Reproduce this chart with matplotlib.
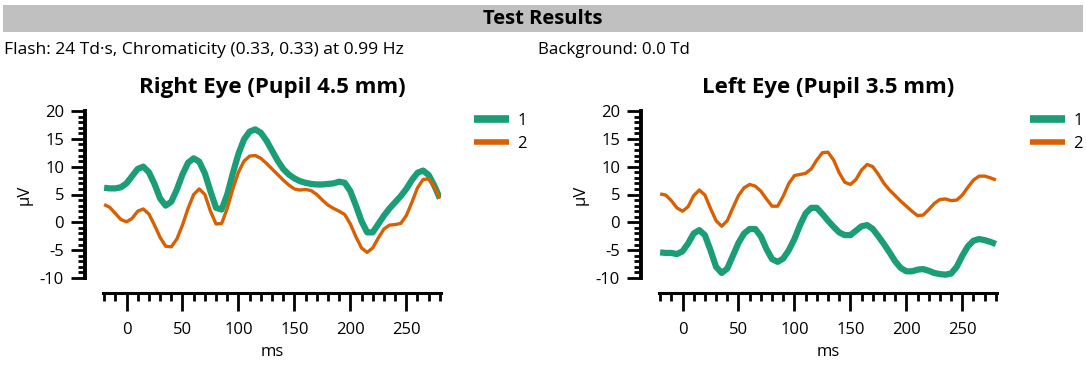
import matplotlib
matplotlib.use("Agg")
import matplotlib.pyplot as plt
from matplotlib.patches import Rectangle
from matplotlib.ticker import MultipleLocator

plt.rcParams['font.family'] = ['Open Sans', 'DejaVu Sans']
plt.rcParams['axes.unicode_minus'] = False

# === Dati ===
ms = list(range(-20, 285, 5))

right_1 = [6.2, 6.1, 6.1, 6.3, 7.0, 8.3, 9.6, 10.0, 9.0, 6.9, 4.3, 3.0, 3.7, 5.9, 8.6, 10.7,
           11.5, 10.9, 8.8, 5.6, 2.6, 2.3, 5.0, 8.8, 12.3, 14.9, 16.3, 16.7, 16.1, 14.7, 12.9,
           11.1, 9.6, 8.6, 7.9, 7.4, 7.1, 6.9, 6.8, 6.8, 6.9, 7.0, 7.3, 7.1, 5.6, 3.0, 0.2,
           -1.8, -1.8, -0.3, 1.2, 2.5, 3.6, 4.7, 6.0, 7.6, 8.9, 9.3, 8.5, 6.6, 4.3]
right_2 = [3.2, 2.7, 1.6, 0.5, 0.1, 0.7, 2.0, 2.4, 1.5, -0.5, -2.7, -4.3, -4.4, -3.0, -0.5, 2.5,
           5.0, 6.0, 5.0, 2.0, -0.3, -0.2, 2.5, 6.0, 9.0, 11.0, 11.9, 12.0, 11.5, 10.6, 9.6,
           8.6, 7.6, 6.7, 6.0, 5.8, 5.9, 5.7, 5.0, 4.0, 3.1, 2.5, 2.0, 1.4, -0.3, -2.6, -4.6,
           -5.4, -4.6, -2.8, -1.2, -0.5, -0.4, -0.2, 1.2, 3.6, 6.2, 7.7, 7.8, 6.4, 4.3]
left_1 = [-5.4, -5.5, -5.5, -5.7, -5.2, -3.8, -2.0, -1.4, -2.3, -5.0, -8.0, -9.1, -8.3, -6.0,
          -3.7, -2.0, -1.2, -1.2, -2.5, -4.8, -6.6, -7.1, -6.5, -5.0, -3.0, -0.5, 1.6, 2.6,
          2.6, 1.5, 0.3, -0.8, -1.8, -2.3, -2.3, -1.5, -0.7, -0.5, -1.2, -2.5, -3.9, -5.4,
          -7.0, -8.2, -8.8, -8.8, -8.5, -8.4, -8.7, -9.1, -9.3, -9.4, -9.2, -8.0, -6.0, -4.3,
          -3.3, -3.0, -3.2, -3.5, -3.9]
left_2 = [5.1, 4.9, 3.9, 2.6, 2.0, 2.8, 4.8, 5.8, 4.9, 2.5, 0.3, -0.7, 0.3, 2.6, 4.8, 6.2,
          6.8, 6.5, 5.6, 4.2, 2.9, 2.9, 4.7, 7.0, 8.4, 8.6, 8.8, 9.6, 11.2, 12.5, 12.6, 11.2,
          8.9, 7.2, 6.8, 7.7, 9.4, 10.4, 10.0, 8.6, 7.0, 5.8, 4.8, 3.8, 2.9, 2.0, 1.2, 1.3,
          2.3, 3.4, 4.1, 4.2, 3.9, 4.0, 4.9, 6.3, 7.6, 8.3, 8.3, 8.0, 7.6]

labels = ["1", "2"]
colors = ["#1b9e77", "#d95f02"]
widths = [4.5, 2.4]
legend_widths = [5.5, 4.0]

header = "Test Results"
info_left = "Flash: 24 Td\u00b7s, Chromaticity (0.33, 0.33) at 0.99 Hz"
info_right = "Background: 0.0 Td"
titles = ["Right Eye (Pupil 4.5 mm)", "Left Eye (Pupil 3.5 mm)"]

W, H = 1086, 376
fig = plt.figure(figsize=(W / 100, H / 100), dpi=100)

# === Barra del titolo ===
fig.patches.append(Rectangle((3 / W, 1 - 32 / H), 1080 / W, 27 / H,
                             transform=fig.transFigure, facecolor="#c0c0c0",
                             edgecolor="none", zorder=0))
fig.text(0.5, 1 - 18.5 / H, header, ha="center", va="center", fontsize=14.5, fontweight="bold")
fig.text(4 / W, 1 - 50 / H, info_left, ha="left", va="center", fontsize=12.6)
fig.text(538 / W, 1 - 50 / H, info_right, ha="left", va="center", fontsize=12.2)


def draw_panel(left_px, title, series):
    ax = fig.add_axes([left_px / W, 1 - 278 / H, 338 / W, 167 / H])
    for vals, lab, col, lw in zip(series, labels, colors, widths):
        ax.plot(ms, vals, color=col, lw=lw, label=lab, solid_capstyle="butt")
    ax.set_xlim(-21, 281)
    ax.set_ylim(-10, 20)

    for side in ("top", "right"):
        ax.spines[side].set_visible(False)
    ax.spines["left"].set_position(("outward", 13))
    ax.spines["bottom"].set_position(("outward", 11))
    ax.spines["left"].set_linewidth(2.8)
    ax.spines["bottom"].set_linewidth(2.2)
    ax.spines["left"].set_bounds(-10, 20)

    ax.xaxis.set_major_locator(MultipleLocator(50))
    ax.xaxis.set_minor_locator(MultipleLocator(10))
    ax.yaxis.set_major_locator(MultipleLocator(5))
    ax.yaxis.set_minor_locator(MultipleLocator(1))
    ax.tick_params(axis="both", which="major", length=10, width=2, labelsize=12, pad=5)
    ax.tick_params(axis="both", which="minor", length=5, width=2)
    ax.tick_params(axis="x", which="major", length=13, pad=8)
    ax.tick_params(axis="x", which="minor", length=6)
    ax.set_xlabel("ms", fontsize=12, labelpad=4)
    ax.set_ylabel("\u00b5V", fontsize=12, labelpad=5)
    ax.set_title(title, fontsize=16, fontweight="bold", pad=13)

    leg = ax.legend(loc="upper left", bbox_to_anchor=(1.097, 0.99), frameon=False,
                    handlelength=2.1, handletextpad=0.5, borderpad=0, borderaxespad=0,
                    fontsize=12, labelspacing=0.45)
    for line, lw in zip(leg.get_lines(), legend_widths):
        line.set_linewidth(lw)
    return ax


draw_panel(103, titles[0], [right_1, right_2])
draw_panel(659, titles[1], [left_1, left_2])

fig.savefig("out.png", dpi=100)
